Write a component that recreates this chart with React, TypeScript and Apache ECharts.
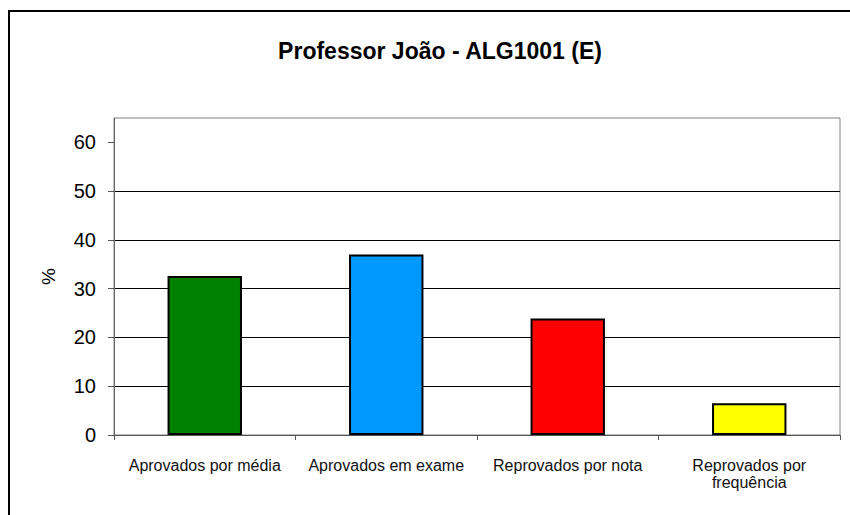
import React, { useEffect, useRef } from "react";
import * as echarts from "echarts";

const chartTitle = "Professor João - ALG1001 (E)";
const yAxisName = "%";
const categories = [
  "Aprovados por média",
  "Aprovados em exame",
  "Reprovados por nota",
  "Reprovados por\nfrequência",
];
const values = [32.6, 37.0, 23.9, 6.5];
const barColors = ["#008000", "#0099FF", "#FF0000", "#FFFF00"];
const yTicks = [0, 10, 20, 30, 40, 50, 60];

const FONT = "'Liberation Sans', Arial, sans-serif";

export default function App() {
  const ref = useRef<HTMLDivElement>(null);
  useEffect(() => {
    document.body.style.margin = "0";
    if (!ref.current) return;
    const chart = echarts.init(ref.current, null, { renderer: "svg" });
    chart.setOption({
      animation: false,
      backgroundColor: "#ffffff",
      title: {
        text: chartTitle,
        left: 435,
        textAlign: "center",
        top: 34,
        textStyle: { fontFamily: FONT, fontSize: 23, fontWeight: "bold", color: "#000" },
      },
      graphic: [
        {
          type: "rect",
          shape: { x: 9, y: 11, width: 900, height: 600 },
          style: { fill: "none", stroke: "#000", lineWidth: 2 },
          silent: true,
        },
      ],
      grid: {
        left: 114,
        right: 10,
        top: 118,
        bottom: 80,
        show: true,
        borderColor: "#808080",
        borderWidth: 1,
        backgroundColor: "#ffffff",
      },
      xAxis: {
        type: "category",
        data: categories,
        axisLine: { show: true, lineStyle: { color: "#555", width: 1 } },
        axisTick: { show: true, length: 5, lineStyle: { color: "#555" } },
        axisLabel: {
          interval: 0,
          margin: 22,
          fontFamily: FONT,
          fontSize: 16,
          lineHeight: 17,
          color: "#111",
        },
      },
      yAxis: {
        type: "value",
        min: 0,
        max: 65,
        interval: 10,
        name: yAxisName,
        nameLocation: "middle",
        nameGap: 56,
        nameRotate: 90,
        nameTextStyle: { fontFamily: FONT, fontSize: 19, color: "#000" },
        axisLine: { show: true, lineStyle: { color: "#666", width: 1 } },
        axisTick: { show: true, length: 6, customValues: yTicks, lineStyle: { color: "#555" } },
        axisLabel: {
          margin: 18,
          customValues: yTicks,
          fontFamily: FONT,
          fontSize: 20,
          color: "#000",
        },
        splitLine: {
          show: true,
          showMaxLine: false,
          lineStyle: { color: "#000", width: 1 },
        },
      },
      series: [
        {
          type: "bar",
          data: values.map((v, i) => ({ value: v, itemStyle: { color: barColors[i] } })),
          barWidth: "41%",
          itemStyle: { borderColor: "#000", borderWidth: 2 },
        },
      ],
    });
    return () => chart.dispose();
  }, []);
  return <div ref={ref} style={{ width: 850, height: 515 }} />;
}
